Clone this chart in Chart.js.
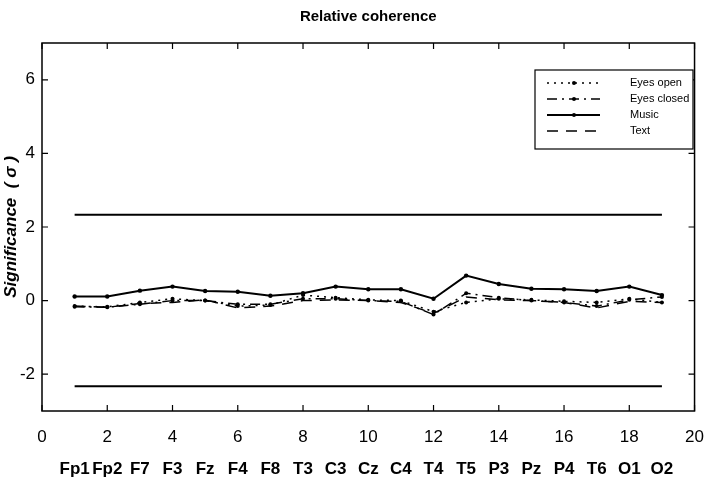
<!DOCTYPE html>
<html>
<head>
<meta charset="utf-8">
<script src="https://cdn.jsdelivr.net/npm/chart.js@4/dist/chart.umd.min.js"></script>
<style>
html,body{margin:0;padding:0;background:#fff;}
#wrap{width:720px;height:486px;}
</style>
</head>
<body>
<div id="wrap"><canvas id="c" width="720" height="486"></canvas></div>
<script>
const categories = ['Fp1','Fp2','F7','F3','Fz','F4','F8','T3','C3','Cz','C4','T4','T5','P3','Pz','P4','T6','O1','O2'];
const eyesOpen   = [-0.15,-0.17,-0.05, 0.05, 0.00,-0.15,-0.12, 0.15, 0.08, 0.02, 0.00,-0.30,-0.05, 0.05, 0.02,-0.02,-0.05, 0.05,-0.05];
const eyesClosed = [-0.17,-0.18,-0.10, 0.00, 0.00,-0.10,-0.10, 0.05, 0.05, 0.00,-0.02,-0.38, 0.20, 0.08, 0.00,-0.05,-0.15, 0.02, 0.10];
const music      = [ 0.11, 0.11, 0.27, 0.38, 0.26, 0.24, 0.13, 0.20, 0.38, 0.31, 0.31, 0.05, 0.68, 0.45, 0.32, 0.31, 0.26, 0.38, 0.15];
const textTask   = [-0.15,-0.18,-0.08,-0.05, 0.02,-0.20,-0.15, 0.00, 0.02, 0.00,-0.05,-0.35, 0.10, 0.02, 0.00,-0.05,-0.20,-0.02,-0.05];
const upperLimit = [2.33, 2.33];
const lowerLimit = [-2.33, -2.33];
const limitX = [1, 19];
const xTicks = [0,2,4,6,8,10,12,14,16,18,20];
const yTicks = [-2,0,2,4,6];

const FONT = '"Liberation Sans",Arial,sans-serif';

const toXY = arr => arr.map((v,i)=>({x:i+1,y:v}));
const limXY = arr => arr.map((v,i)=>({x:limitX[i],y:v}));

const legendItems = [
  {label:'Eyes open', dash:[2,5], width:1.5, marker:true},
  {label:'Eyes closed', dash:[10,5,2,5], width:1.5, marker:true},
  {label:'Music', dash:[], width:2, marker:true},
  {label:'Text', dash:[11,8], width:1.5, marker:false}
];

const framePlugin = {
  id:'frame',
  afterDatasetsDraw(chart){
    const ctx = chart.ctx, a = chart.chartArea;
    const xs = chart.scales.x, ys = chart.scales.y;
    ctx.save();
    ctx.strokeStyle = '#000';
    ctx.lineWidth = 1.5;
    ctx.setLineDash([]);
    ctx.strokeRect(a.left, a.top, a.right-a.left, a.bottom-a.top);
    const tl = 6;
    ctx.lineWidth = 1.2;
    ctx.beginPath();
    xs.ticks.forEach(t=>{
      const px = xs.getPixelForValue(t.value);
      ctx.moveTo(px, a.bottom); ctx.lineTo(px, a.bottom-tl);
      ctx.moveTo(px, a.top); ctx.lineTo(px, a.top+tl);
    });
    ys.ticks.forEach(t=>{
      const py = ys.getPixelForValue(t.value);
      ctx.moveTo(a.left, py); ctx.lineTo(a.left+tl, py);
      ctx.moveTo(a.right, py); ctx.lineTo(a.right-tl, py);
    });
    ctx.stroke();

    // legend box
    const bx = 535, by = 70, bw = 158, bh = 79;
    ctx.fillStyle = '#fff';
    ctx.fillRect(bx, by, bw, bh);
    ctx.lineWidth = 1.2;
    ctx.strokeRect(bx, by, bw, bh);
    const rows = [83, 99, 115, 131];
    ctx.font = '11px ' + FONT;
    ctx.textBaseline = 'middle';
    ctx.textAlign = 'left';
    legendItems.forEach((it,i)=>{
      const y = rows[i];
      ctx.lineWidth = it.width;
      ctx.setLineDash(it.dash);
      ctx.beginPath(); ctx.moveTo(547, y); ctx.lineTo(600, y); ctx.stroke();
      ctx.setLineDash([]);
      if (it.marker){
        ctx.beginPath(); ctx.arc(574, y, 2, 0, Math.PI*2); ctx.fillStyle='#000'; ctx.fill();
      }
      ctx.fillStyle = '#000';
      ctx.fillText(it.label, 630, y);
    });
    ctx.restore();
  }
};

const ds = (label, data, dash, width, radius) => ({
  label, data, borderColor:'#000', backgroundColor:'#000', borderWidth:width,
  borderDash:dash, pointRadius:radius, pointBackgroundColor:'#000', pointBorderWidth:0,
  pointHoverRadius:radius, tension:0, fill:false
});

new Chart(document.getElementById('c'), {
  type:'line',
  data:{
    datasets:[
      ds('Upper limit', limXY(upperLimit), [], 2, 0),
      ds('Lower limit', limXY(lowerLimit), [], 2, 0),
      ds('Text', toXY(textTask), [11,8], 1.5, 0),
      ds('Eyes open', toXY(eyesOpen), [2,5], 1.5, 2),
      ds('Eyes closed', toXY(eyesClosed), [10,5,2,5], 1.5, 2),
      ds('Music', toXY(music), [], 2, 2.2)
    ]
  },
  options:{
    responsive:false,
    animation:false,
    layout:{padding:{left:0,right:12,top:0,bottom:0}},
    plugins:{
      legend:{display:false},
      tooltip:{enabled:false},
      title:{display:true, fullSize:false, text:'Relative coherence', color:'#000',
        font:{family:FONT, size:15, weight:'bold'}, padding:{top:8,bottom:17}}
    },
    scales:{
      x:{type:'linear', position:'bottom', min:0, max:20, weight:0,
        afterBuildTicks(s){ s.ticks = xTicks.map(v=>({value:v})); },
        afterFit(s){ s.height = 35; },
        grid:{display:true, drawOnChartArea:false, drawTicks:false},
        border:{display:false},
        ticks:{color:'#000', padding:16, maxRotation:0, autoSkip:false,
          font:{family:FONT, size:17}}
      },
      x2:{type:'linear', position:'bottom', min:0, max:20, weight:1,
        afterBuildTicks(s){ s.ticks = categories.map((c,i)=>({value:i+1})); },
        afterFit(s){ s.height = 40; },
        grid:{display:true, drawOnChartArea:false, drawTicks:false},
        border:{display:false},
        ticks:{color:'#000', padding:13, maxRotation:0, autoSkip:false,
          font:{family:FONT, size:17, weight:'bold'},
          callback:(v)=>categories[Math.round(v)-1] || ''}
      },
      y:{type:'linear', position:'left', min:-3, max:7,
        afterBuildTicks(s){ s.ticks = yTicks.map(v=>({value:v})); },
        afterFit(s){ s.width = 42; },
        grid:{display:true, drawOnChartArea:false, drawTicks:false},
        border:{display:false},
        ticks:{color:'#000', padding:7, font:{family:FONT, size:17}},
        title:{display:true, text:'Significance  ( σ )', color:'#000',
          font:{family:FONT, size:17, weight:'bold', style:'italic'}, padding:{top:1,bottom:0}}
      }
    }
  },
  plugins:[framePlugin]
});
</script>
</body>
</html>
